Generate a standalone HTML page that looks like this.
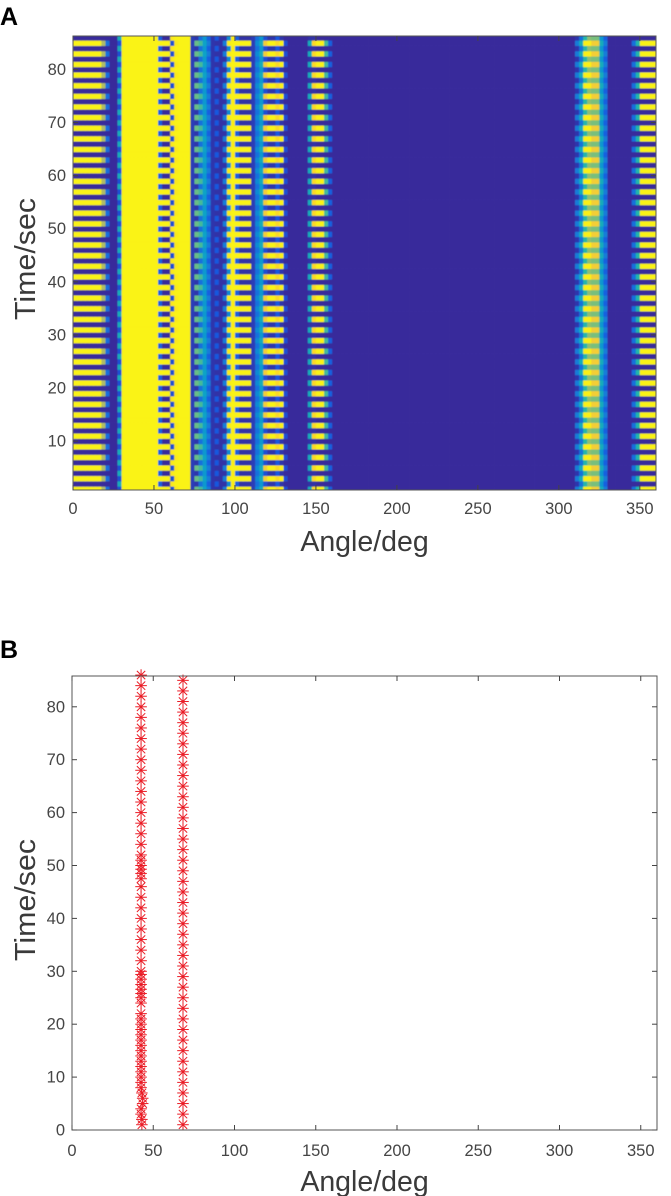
<!DOCTYPE html>
<html lang="en">
<head>
<meta charset="utf-8">
<title>Heatmap and detected angles over time</title>
<style>
html,body{margin:0;padding:0;background:#fff;width:671px;height:1196px;overflow:hidden}
svg{display:block;font-family:"Liberation Sans",Arial,sans-serif}
.tick-label{font-size:16.5px;fill:#454545}
.axis-title{font-size:28.5px;fill:#3a3a3a}
.panel-letter{font-size:25px;font-weight:bold;fill:#000}
</style>
</head>
<body>
<svg id="figure" width="671" height="1196" viewBox="0 0 671 1196" xmlns="http://www.w3.org/2000/svg">
  <defs>
    <clipPath id="clip-a"><rect x="73" y="36" width="583" height="454"/></clipPath>
    <clipPath id="clip-b"><rect x="60" y="660" width="600" height="480"/></clipPath>
    <filter id="soft" x="-2%" y="-2%" width="104%" height="104%"><feGaussianBlur stdDeviation="0.55"/></filter>
    <filter id="soft-mark" x="-2%" y="-2%" width="104%" height="104%"><feGaussianBlur stdDeviation="0.35"/></filter>
  </defs>
  <text class="panel-letter" x="0" y="25">A</text>
  <text class="panel-letter" x="0" y="658">B</text>
  <g id="heat" clip-path="url(#clip-a)"><g id="heat-cells" filter="url(#soft)"></g></g>
  <g id="axes-a"></g>
  <g id="marks" clip-path="url(#clip-b)" filter="url(#soft-mark)"></g>
  <g id="axes-b"></g>
</svg>
<script>
// Shared tick labels
const xTicks = [0, 50, 100, 150, 200, 250, 300, 350];
const yTicksA = [10, 20, 30, 40, 50, 60, 70, 80];
const yTicksB = [0, 10, 20, 30, 40, 50, 60, 70, 80];

// Heatmap: 2.5-degree angle bins; two alternating time-row profiles
const binWidthDeg = 2.5;
const oddRowValues = [
  .99,.99,.99,.99,.99,.99,.99,.7,.2,0,0,.1,
  .99,.99,.99,.99,.99,.99,.99,.99,.99,.99,.99,.99,
  .1,.95,.99,.99,.99,.05,.6,.55,.4,.25,.03,.02,
  .02,.25,.97,.99,.99,.99,.99,.99,.05,.3,.45,.85,
  .99,.99,.9,.99,.1,0,0,0,0,0,.45,.9,
  .99,.99,.55,.15,0,0,0,0,0,0,0,0,
  0,0,0,0,0,0,0,0,0,0,0,0,
  0,0,0,0,0,0,0,0,0,0,0,0,
  0,0,0,0,0,0,0,0,0,0,0,0,
  0,0,0,0,0,0,0,0,0,0,0,0,
  0,0,0,0,.25,.45,.98,.98,.85,.85,.45,.25,
  0,0,0,0,0,0,.2,.5,.99,.99,.99,.99
];
const evenRowValues = [
  0,0,0,0,0,0,0,0,0,0,0,.45,
  .99,.99,.99,.99,.99,.99,.99,.99,.99,.15,0,0,
  .95,.99,.99,.99,.99,.05,.03,.2,.35,.15,.03,.12,
  .02,.02,.3,.97,.15,.02,.02,.02,.05,.2,.35,.1,
  .03,.03,.12,.03,0,0,0,0,0,0,.02,.02,
  0,0,0,0,0,0,0,0,0,0,0,0,
  0,0,0,0,0,0,0,0,0,0,0,0,
  0,0,0,0,0,0,0,0,0,0,0,0,
  0,0,0,0,0,0,0,0,0,0,0,0,
  0,0,0,0,0,0,0,0,0,0,0,0,
  0,0,0,0,.03,.2,.5,.65,.62,.62,.35,.15,
  0,0,0,0,0,0,0,0,0,0,0,0
];
// Row kinds from time 1 upward to time 86
const rowKinds = ["O","E","O","E","O","E","O","E","O","E","O","E","O","E","O","E","O","E","O","E","O","E","O","E","O","E","O","E","O","E","O","E","O","E","O","E","O","E","O","E","O","E","O","E","O","E","O","E","O","E","O","E","O","E","O","E","O","E","O","E","O","E","O","E","O","E","O","E","O","E","O","E","O","E","O","E","O","E","O","E","O","E","O","E","O","E"];

// Detected points in panel B
const series1Times = [86,84,82,80,78,76,74,72,70,68,66,64,62,60,58,56,54,52,51,50,49.3,48.5,47.5,46,44,42,40,38,36,34,32,30,29.4,28.5,27.5,26.6,25.8,25,24,22,21,20,19,18,17,16,15,14,13,12,11,10,9,8,7,6,5,4,3,2,1];
const series1Angles = [42.5,42.5,42.5,42.5,42.5,42.5,42.5,42.5,42.5,42.5,42.5,42.5,42.5,42.5,42.5,42.5,42.5,42.5,42.5,42.5,42.5,42.5,42.5,42.5,42.5,42.5,42.5,42.5,42.5,42.5,42.5,42.5,42.5,42.5,42.5,42.5,42.5,42.5,42.5,42.5,42.5,42.5,42.5,42.5,42.5,42.5,42.5,42.5,42.5,42.5,42.5,42.5,42.5,42.5,43,43.5,43.5,42.5,42.5,43,43];
const series2Times = [85,83,81,79,77,75,73,71,69,67,65,63,61,59,57,55,53,51,49,47,45,43,41,39,37,35,33,31,29,27,25,23,21,19,17,15,13,11,9,7,5,3,1];
const series2Angle = 68.3;

const NS = 'http://www.w3.org/2000/svg';
const colorStops = [[56,42,155],[20,90,225],[18,125,216],[8,158,205],[32,182,172],[124,191,123],[210,188,88],[252,210,46],[250,246,16]];

function colorScale(v) {
  const t = Math.max(0, Math.min(1, v)) * (colorStops.length - 1);
  const i = Math.min(colorStops.length - 2, Math.floor(t));
  const f = t - i;
  const c = colorStops[i].map((a, k) => Math.round(a + (colorStops[i + 1][k] - a) * f));
  return 'rgb(' + c.join(',') + ')';
}
const xA = v => 73 + v * 1.6195;
const yA = v => 490 - (v - 0.8) * 5.31;
const xB = v => 72 + v * 1.625;
const yB = v => 1130 - v * 5.29;

function drawLine(parent, x1, y1, x2, y2, color, width) {
  const l = document.createElementNS(NS, 'line');
  l.setAttribute('x1', x1);
  l.setAttribute('y1', y1);
  l.setAttribute('x2', x2);
  l.setAttribute('y2', y2);
  l.setAttribute('stroke', color);
  l.setAttribute('stroke-width', width);
  parent.appendChild(l);
  return l;
}
function drawText(parent, x, y, str, cls, anchor) {
  const t = document.createElementNS(NS, 'text');
  t.setAttribute('x', x);
  t.setAttribute('y', y);
  t.setAttribute('class', cls);
  t.setAttribute('text-anchor', anchor);
  t.textContent = str;
  parent.appendChild(t);
  return t;
}

// Heatmap cells
const heatCells = document.getElementById('heat-cells');
rowKinds.forEach((kind, rowIndex) => {
  const profile = kind === 'O' ? oddRowValues : evenRowValues;
  const time = rowIndex + 1;
  profile.forEach((value, binIndex) => {
    const r = document.createElementNS(NS, 'rect');
    
    
    const x0 = xA(binIndex * binWidthDeg);
    const x1 = xA((binIndex + 1) * binWidthDeg);
    const y0 = yA(time + 0.5);
    const y1 = yA(time - 0.5);
    r.setAttribute('x', x0);
    r.setAttribute('y', y0);
    r.setAttribute('width', x1 - x0 + 0.4);
    r.setAttribute('height', y1 - y0 + 0.4);
    r.setAttribute('fill', colorScale(value));
    heatCells.appendChild(r);
  });
});

function drawAxes(group, left, right, top, bottom, xScale, yScale, yTicks, xLabelY, xTitleY, yTitleX, yTitleY) {
  const box = document.createElementNS(NS, 'rect');
  
  
  box.setAttribute('x', left);
  box.setAttribute('y', top);
  box.setAttribute('width', right - left);
  box.setAttribute('height', bottom - top);
  box.setAttribute('fill', 'none');
  box.setAttribute('stroke', '#555');
  box.setAttribute('stroke-width', '1');
  group.appendChild(box);
  xTicks.forEach(v => {
    const x = xScale(v);
    const t1 = drawLine(group, x, bottom, x, bottom - 5, '#444', 1);
    
    
    const t2 = drawLine(group, x, top, x, top + 5, '#444', 1);
    
    
    const lab = drawText(group, x, xLabelY, String(v), 'tick-label', 'middle');
    
    
  });
  yTicks.forEach(v => {
    const y = yScale(v);
    const t1 = drawLine(group, left, y, left + 5, y, '#444', 1);
    
    
    const t2 = drawLine(group, right, y, right - 5, y, '#444', 1);
    
    
    const lab = drawText(group, left - 7, y + 5.5, String(v), 'tick-label', 'end');
    
    
  });
  const xt = drawText(group, (left + right) / 2, xTitleY, 'Angle/deg', 'axis-title', 'middle');
  
  
  const yt = drawText(group, 0, 0, 'Time/sec', 'axis-title', 'middle');
  yt.setAttribute('transform', 'translate(' + yTitleX + ',' + yTitleY + ') rotate(-90)');
  yt.setAttribute('textLength', '122');
  yt.setAttribute('lengthAdjust', 'spacingAndGlyphs');
  
  
}
drawAxes(document.getElementById('axes-a'), 73, 656, 36, 490, xA, yA, yTicksA, 514, 551, 35, 259);
drawAxes(document.getElementById('axes-b'), 72, 657, 676, 1130, xB, yB, yTicksB, 1156, 1191, 35, 900);

// Scatter markers
const marks = document.getElementById('marks');
function drawStar(cx, cy, name) {
  const g = document.createElementNS(NS, 'g');
  
  
  const r = 5.8;
  [[0, r], [r, 0], [r * 0.72, r * 0.72], [r * 0.72, -r * 0.72]].forEach(d => {
    drawLine(g, cx - d[0], cy - d[1], cx + d[0], cy + d[1], '#ea1c26', 1);
  });
  marks.appendChild(g);
}
series1Times.forEach((t, i) => drawStar(xB(series1Angles[i]), yB(t), 'series-1-point'));
series2Times.forEach(t => drawStar(xB(series2Angle), yB(t), 'series-2-point'));
</script>
</body>
</html>
